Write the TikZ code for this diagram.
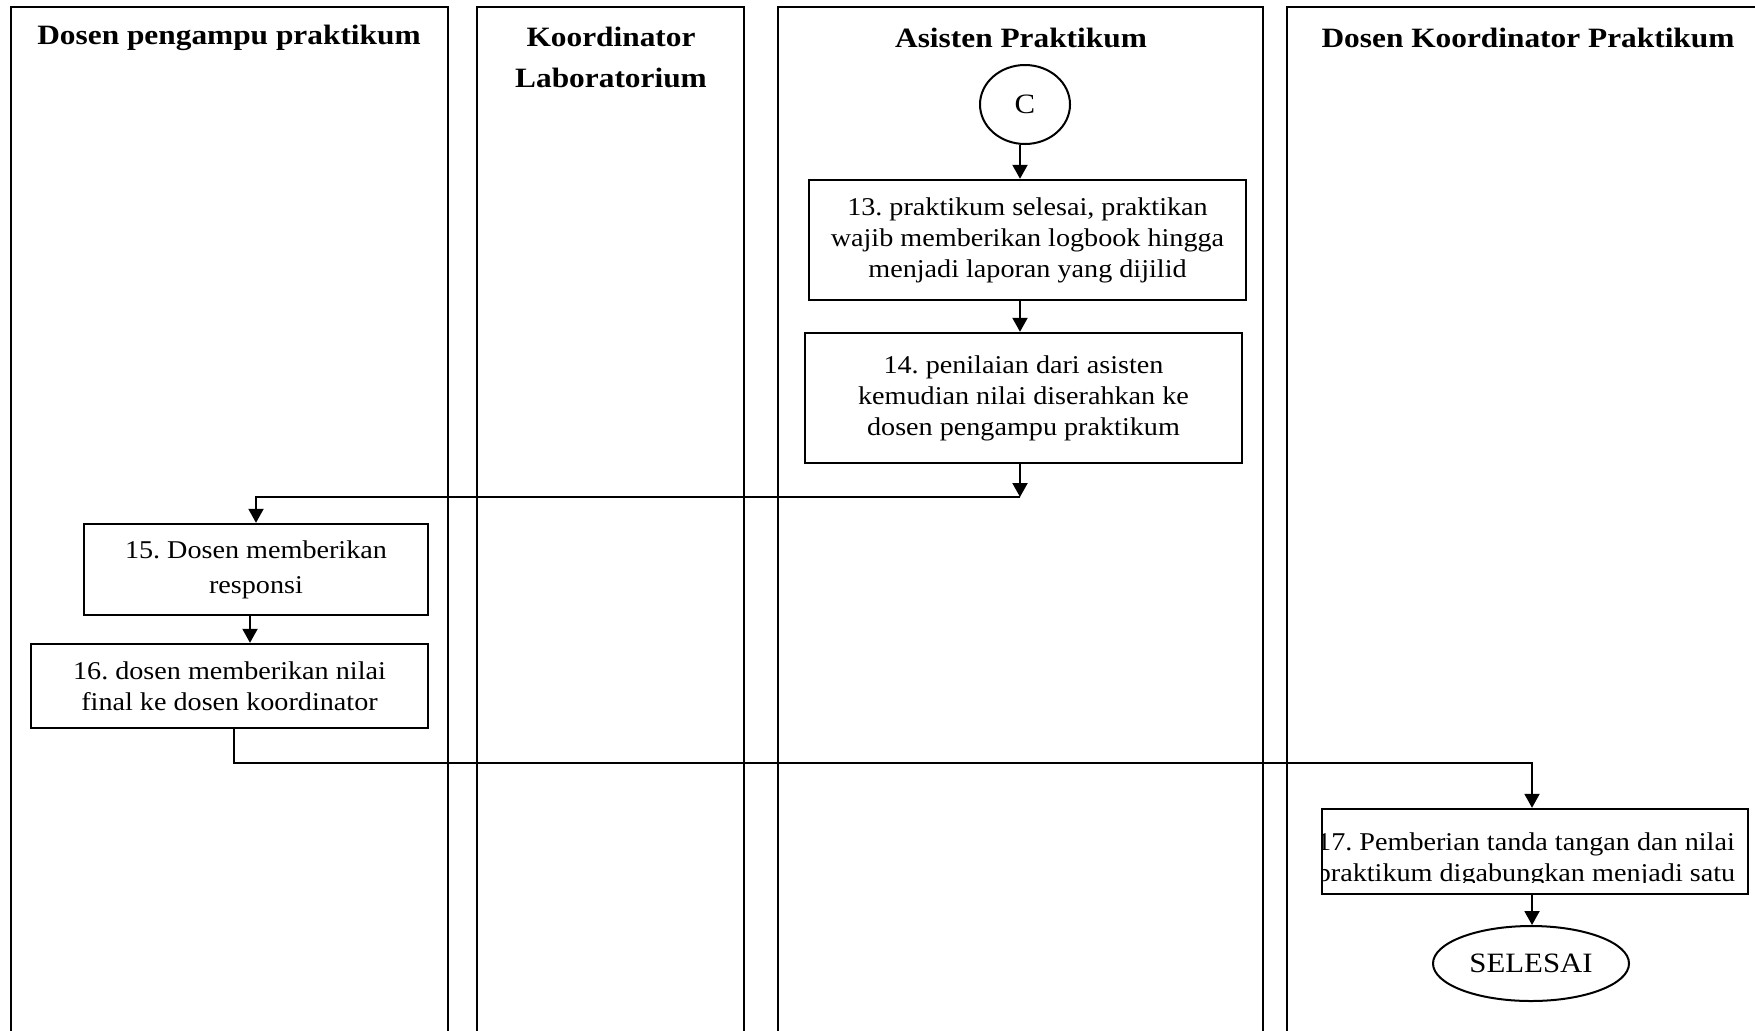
\documentclass[tikz,border=0pt]{standalone}
\usepackage{fontspec}
\setmainfont{Liberation Serif}[FakeStretch=1.10]
\newfontfamily\headfont{Liberation Serif}[FakeStretch=1.12]
\usetikzlibrary{shapes.geometric,arrows.meta}
\frenchspacing
\begin{document}
\begin{tikzpicture}[x=0.5pt,y=-0.5pt,
  lane/.style={line width=1pt},
  head/.style={font=\headfont\bfseries\fontsize{14}{20}\selectfont, align=center, inner sep=0pt},
  stepbox/.style={draw, line width=1.2pt, rectangle, inner sep=0pt, align=center,
    font=\fontsize{12.8}{15.5}\selectfont},
  terminal/.style={draw, line width=1pt, ellipse, inner sep=0pt, font=\fontsize{14}{16}\selectfont},
  arr/.style={line width=1pt, -{Triangle[width=7.5pt,length=7pt]}}
]
\clip (0,0) rectangle (1755,1030);

% swimlanes
\draw[lane] (11,1040) -- (11,7) -- (448,7) -- (448,1040);
\draw[lane] (477,1040) -- (477,7) -- (744,7) -- (744,1040);
\draw[lane] (778,1040) -- (778,7) -- (1263,7) -- (1263,1040);
\draw[lane] (1287,1040) -- (1287,7) -- (1775,7);

% lane titles
\node[head] (h1) at (229,38) {Dosen pengampu praktikum};
\node[head] (h2) at (611,57) {Koordinator\\[0.5pt]Laboratorium};
\node[head] (h3) at (1021,38) {Asisten Praktikum};
\node[head] (h4) at (1528,38) {Dosen Koordinator Praktikum};

% steps
\node[terminal, minimum width=45pt, minimum height=39.5pt] (c) at (1025,104.5) {C};
\node[stepbox, minimum width=218.5pt, minimum height=60pt] (b13) at (1027.5,240)
  {13. praktikum selesai, praktikan\\wajib memberikan logbook hingga\\menjadi laporan yang dijilid};
\node[stepbox, minimum width=218.5pt, minimum height=65pt] (b14) at (1023.5,398)
  {14. penilaian dari asisten\\kemudian nilai diserahkan ke\\dosen pengampu praktikum};
\node[stepbox, minimum width=172pt, minimum height=45.5pt,
  font=\fontsize{12.8}{17.5}\selectfont] (b15) at (256,569.5)
  {15. Dosen memberikan\\responsi};
\node[stepbox, minimum width=198.5pt, minimum height=42pt] (b16) at (229.5,686)
  {16. dosen memberikan nilai\\final ke dosen koordinator};
\node[stepbox, minimum width=213pt, minimum height=42.5pt] (b17) at (1535,851.5) {};
\begin{scope}
  % the text of step 17 is cut off by its frame's inner margin
  \clip (1323,812) rectangle (1746,882);
  \node[align=center, inner sep=0pt, font=\fontsize{12.8}{15.5}\selectfont] (t17) at (1526,860)
    {17. Pemberian tanda tangan dan nilai\\praktikum digabungkan menjadi satu};
\end{scope}
\node[terminal, minimum width=98pt, minimum height=37.5pt] (end) at (1531,963.5) {SELESAI};

% connector guides
\coordinate (ax) at (1020,0);
\coordinate (j1) at (1020,497);
\coordinate (a2) at (250,0);
\coordinate (a3) at (234,0);
\coordinate (j2) at (1532,763);

% connectors
\draw[arr] (ax |- c.south) -- (ax |- b13.north);
\draw[arr] (ax |- b13.south) -- (ax |- b14.north);
\draw[arr] (ax |- b14.south) -- (j1);
\draw[arr] (j1) -| (b15.north);
\draw[arr] (a2 |- b15.south) -- (a2 |- b16.north);
\draw[arr] (a3 |- b16.south) |- (j2) -- (j2 |- b17.north);
\draw[arr] (j2 |- b17.south) -- (j2 |- end.north);
\end{tikzpicture}
\end{document}
